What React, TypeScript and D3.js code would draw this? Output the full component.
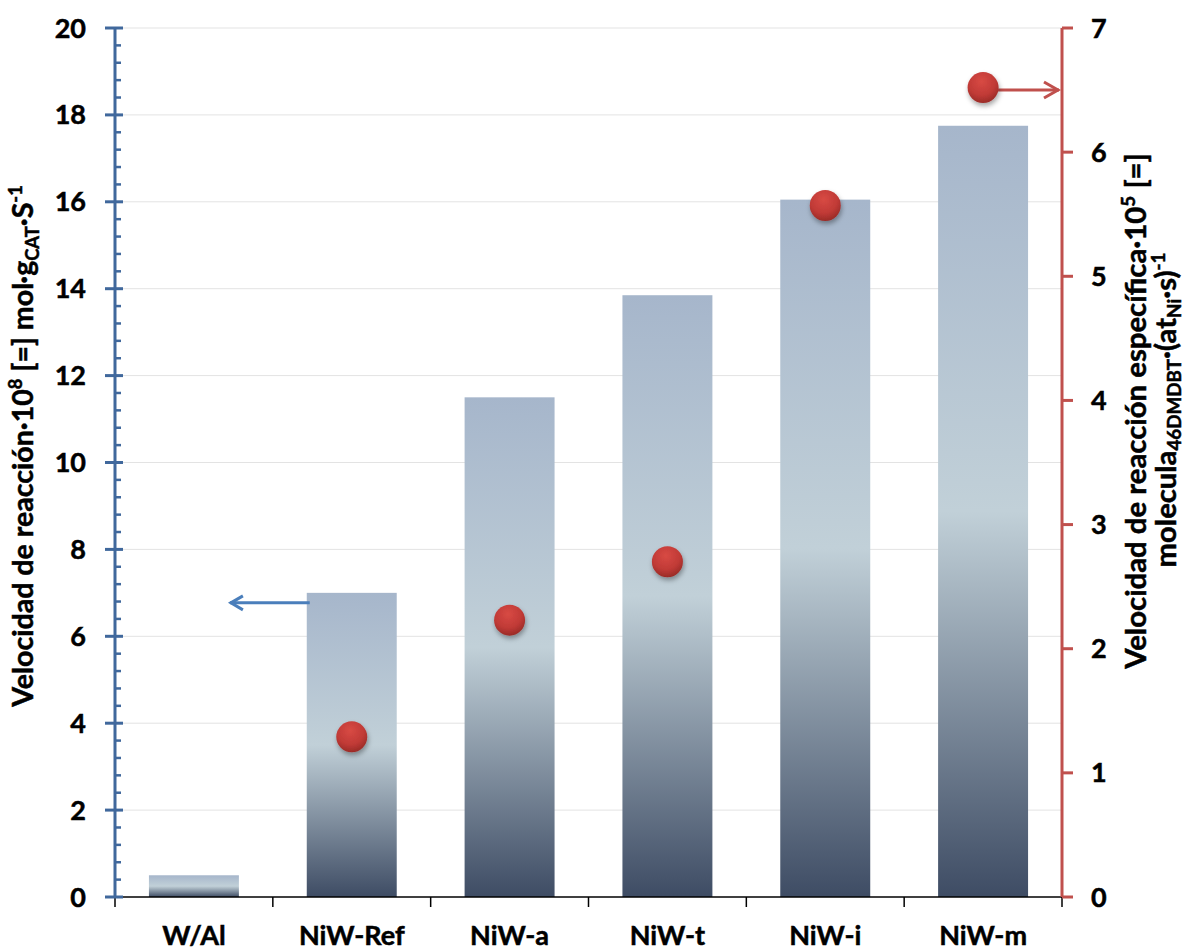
import React, { useLayoutEffect, useRef, useState } from "react";
import * as d3 from "d3";

const categories = ["W/Al", "NiW-Ref", "NiW-a", "NiW-t", "NiW-i", "NiW-m"];
const rateValues = [0.5, 7.0, 11.5, 13.85, 16.05, 17.75];
const specificCategories = ["NiW-Ref", "NiW-a", "NiW-t", "NiW-i", "NiW-m"];
const specificValues = [1.29, 2.23, 2.7, 5.57, 6.52];
const leftTicks = [0, 2, 4, 6, 8, 10, 12, 14, 16, 18, 20];
const rightTicks = [0, 1, 2, 3, 4, 5, 6, 7];

const W = 1189;
const H = 950;
const M = { left: 115, right: 1062, top: 28, bottom: 897 };
const FONT = "Lato, 'Open Sans', sans-serif";
const BLUE = "#40689c";
const RED = "#c0504d";
const ARROW_BLUE = "#4a7ebb";

function FitTitle({ x, y, length, children }: { x: number; y: number; length: number; children: React.ReactNode }) {
  const ref = useRef<SVGTextElement>(null);
  const [s, setS] = useState(1);
  useLayoutEffect(() => {
    if (ref.current) {
      const bb = ref.current.getBBox();
      if (bb.width > 0) setS(length / bb.width);
    }
  }, [length]);
  return (
    <text
      ref={ref}
      transform={`translate(${x},${y}) rotate(-90) scale(${s},1)`}
      textAnchor="middle"
      fontSize={28}
      fontWeight="bold"
      fill="#000"
      stroke="#000"
      strokeWidth={0.5}
    >
      {children}
    </text>
  );
}

export default function App() {
  const x = d3.scaleBand().domain(categories).range([M.left, M.right]).paddingInner(0.43).paddingOuter(0.215);
  const xOuter = d3.scaleBand().domain(categories).range([M.left, M.right]);
  const yL = d3.scaleLinear().domain([0, 20]).range([M.bottom, M.top]);
  const yR = d3.scaleLinear().domain([0, 7]).range([M.bottom, M.top]);
  const minorTicks = d3.range(0, 20.001, 0.4).filter((v) => Math.abs(v / 2 - Math.round(v / 2)) > 1e-6);
  const catBounds = categories.map((c) => xOuter(c) as number).concat([M.right]);
  const cx = (c: string) => (x(c) as number) + x.bandwidth() / 2;
  const blueY = yL(6.77);
  const redY = yR(6.5);
  const subFs = 18;

  return (
    <svg width={W} height={H} style={{ position: "absolute", left: 0, top: 0 }} fontFamily={FONT}>
      <defs>
        <linearGradient id="barGrad" x1="0" y1="0" x2="0" y2="1">
          <stop offset="0" stopColor="#a6b6cb" />
          <stop offset="0.5" stopColor="#c1d0d8" />
          <stop offset="1" stopColor="#3e4c64" />
        </linearGradient>
        <radialGradient id="dotGrad" cx="0.45" cy="0.3" r="0.75">
          <stop offset="0" stopColor="#d84a44" />
          <stop offset="0.6" stopColor="#c03a36" />
          <stop offset="1" stopColor="#922824" />
        </radialGradient>
        <filter id="shadow" x="-50%" y="-50%" width="200%" height="200%">
          <feDropShadow dx="1" dy="3" stdDeviation="2.5" floodColor="#000" floodOpacity="0.35" />
        </filter>
      </defs>
      <rect x={0} y={0} width={W} height={H} fill="#fff" />
      {leftTicks.filter((t) => t > 0).map((t) => (
        <line key={"g" + t} x1={M.left} x2={M.right} y1={yL(t)} y2={yL(t)} stroke="#e3e3e3" strokeWidth={1} />
      ))}
      {categories.map((c, i) => (
        <rect key={c} x={x(c)} y={yL(rateValues[i])} width={x.bandwidth()} height={M.bottom - yL(rateValues[i])} fill="url(#barGrad)" />
      ))}
      <line x1={M.left} x2={M.right} y1={M.bottom} y2={M.bottom} stroke="#000" strokeWidth={1.5} />
      {catBounds.map((b, i) => (
        <line key={"xt" + i} x1={b} x2={b} y1={M.bottom} y2={M.bottom + 10} stroke="#000" strokeWidth={1.5} />
      ))}
      {categories.map((c) => (
        <text key={"xl" + c} x={cx(c)} y={945} textAnchor="middle" fontSize={27} fontWeight="bold" fill="#000" stroke="#000" strokeWidth={0.5}>{c}</text>
      ))}
      <line x1={M.left} x2={M.left} y1={M.top} y2={M.bottom} stroke={BLUE} strokeWidth={3} />
      {leftTicks.map((t) => (
        <g key={"lt" + t}>
          <line x1={M.left - 10} x2={M.left + 8} y1={yL(t)} y2={yL(t)} stroke={BLUE} strokeWidth={3} />
          <text x={86} y={yL(t) + 9.5} textAnchor="end" fontSize={27} fontWeight="bold" fill="#000" stroke="#000" strokeWidth={0.5}>{t}</text>
        </g>
      ))}
      {minorTicks.map((t) => (
        <line key={"lm" + t} x1={M.left} x2={M.left + 6} y1={yL(t)} y2={yL(t)} stroke={BLUE} strokeWidth={2.5} />
      ))}
      <line x1={M.right} x2={M.right} y1={M.top} y2={M.bottom} stroke={RED} strokeWidth={3} />
      {rightTicks.map((t) => (
        <g key={"rt" + t}>
          <line x1={M.right} x2={M.right + 11} y1={yR(t)} y2={yR(t)} stroke={RED} strokeWidth={3} />
          <text x={1091} y={yR(t) + 9.5} textAnchor="start" fontSize={27} fontWeight="bold" fill="#000" stroke="#000" strokeWidth={0.5}>{t}</text>
        </g>
      ))}
      {/* blue arrow pointing to left axis */}
      <line x1={cx("NiW-Ref") - 42} x2={cx("W/Al") + 36} y1={blueY} y2={blueY} stroke={ARROW_BLUE} strokeWidth={3} />
      <path d={`M${cx("W/Al") + 49},${blueY - 7} L${cx("W/Al") + 37},${blueY} L${cx("W/Al") + 49},${blueY + 7}`} fill="none" stroke={ARROW_BLUE} strokeWidth={3} />
      {/* red arrow pointing to right axis */}
      <line x1={cx("NiW-m")} x2={M.right - 3} y1={redY} y2={redY} stroke={RED} strokeWidth={3} />
      <path d={`M${M.right - 18},${redY - 8} L${M.right - 4},${redY} L${M.right - 18},${redY + 8}`} fill="none" stroke={RED} strokeWidth={3} />
      {specificCategories.map((c, i) => (
        <circle key={"d" + c} cx={cx(c)} cy={yR(specificValues[i])} r={15.5} fill="url(#dotGrad)" filter="url(#shadow)" />
      ))}
      <FitTitle x={33} y={446} length={523}>
        Velocidad de reacción·10<tspan fontSize={subFs} dy={-11}>8</tspan><tspan dy={11}>{"  [=] mol·g"}</tspan><tspan fontSize={subFs} dy={6}>CAT</tspan><tspan dy={-6}>·S</tspan><tspan fontSize={subFs} dy={-11}>-1</tspan>
      </FitTitle>
      <FitTitle x={1146} y={411} length={517}>
        Velocidad de reacción específica·10<tspan fontSize={subFs} dy={-11}>5</tspan><tspan dy={11}>{"  [=]"}</tspan>
      </FitTitle>
      <FitTitle x={1176} y={410} length={315}>
        molecula<tspan fontSize={subFs} dy={5}>46DMDBT</tspan><tspan dy={-5}>·(at</tspan><tspan fontSize={subFs} dy={5}>Ni</tspan><tspan dy={-5}>·s)</tspan><tspan fontSize={subFs} dy={-11}>-1</tspan>
      </FitTitle>
    </svg>
  );
}
